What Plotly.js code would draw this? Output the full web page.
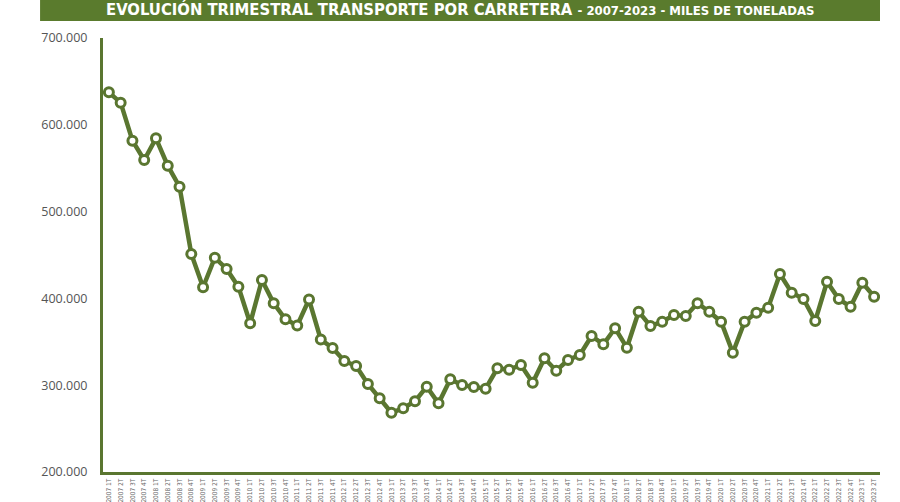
<!DOCTYPE html>
<html>
<head>
<meta charset="utf-8">
<script src="https://cdn.plot.ly/plotly-3.0.1.min.js"></script>
<style>
  html, body { margin: 0; padding: 0; background: #fff; }
  #chart { width: 900px; height: 502px; }
</style>
</head>
<body>
<div id="chart"></div>
<script>
// trimestres 2007 1T - 2023 2T
const quarters = [
  "2007 1T", "2007 2T", "2007 3T", "2007 4T",
  "2008 1T", "2008 2T", "2008 3T", "2008 4T",
  "2009 1T", "2009 2T", "2009 3T", "2009 4T",
  "2010 1T", "2010 2T", "2010 3T", "2010 4T",
  "2011 1T", "2011 2T", "2011 3T", "2011 4T",
  "2012 1T", "2012 2T", "2012 3T", "2012 4T",
  "2013 1T", "2013 2T", "2013 3T", "2013 4T",
  "2014 1T", "2014 2T", "2014 3T", "2014 4T",
  "2015 1T", "2015 2T", "2015 3T", "2015 4T",
  "2016 1T", "2016 2T", "2016 3T", "2016 4T",
  "2017 1T", "2017 2T", "2017 3T", "2017 4T",
  "2018 1T", "2018 2T", "2018 3T", "2018 4T",
  "2019 1T", "2019 2T", "2019 3T", "2019 4T",
  "2020 1T", "2020 2T", "2020 3T", "2020 4T",
  "2021 1T", "2021 2T", "2021 3T", "2021 4T",
  "2022 1T", "2022 2T", "2022 3T", "2022 4T",
  "2023 1T", "2023 2T"
];

// miles de toneladas
const tonnes = [
  637400, 625500, 581700, 559400,
  584400, 552900, 528700, 451200,
  412800, 446900, 433900, 413500,
  371300, 421200, 394400, 375900,
  368800, 398700, 352600, 342900,
  327900, 322100, 301400, 284900,
  268300, 273400, 281500, 298300,
  279100, 306800, 300200, 297900,
  296000, 319500, 317900, 323300,
  302900, 331000, 316700, 329000,
  334800, 356700, 347100, 365600,
  343200, 384700, 368200, 373200,
  380900, 379700, 394400, 384700,
  373200, 337400, 373200, 383500,
  389300, 428100, 406600, 399300,
  374000, 419200, 399300, 390400,
  418100, 402000
];

const yTicks = [200000, 300000, 400000, 500000, 600000, 700000];

const green = "#5a7630";
const barGreen = "#5a7b2d";

const trace = {
  x: quarters,
  y: tonnes,
  type: "scatter",
  mode: "lines+markers",
  line: { color: green, width: 4.5 },
  marker: {
    symbol: "circle",
    size: 9,
    color: "#ffffff",
    line: { color: green, width: 3 },
  },
  hoverinfo: "x+y",
};

const layout = {
  width: 900,
  height: 502,
  margin: { l: 103, r: 20, t: 38, b: 30 },
  paper_bgcolor: "#ffffff",
  plot_bgcolor: "#ffffff",
  separators: ",.",
  showlegend: false,
  xaxis: {
    type: "category",
    range: [-0.5, quarters.length - 0.5],
    showgrid: false,
    zeroline: false,
    showline: true,
    linecolor: green,
    linewidth: 3,
    ticks: "",
    tickangle: -90,
    ticklabelstandoff: 1,
    tickfont: { family: "DejaVu Sans Condensed, Open Sans, sans-serif", size: 6.5, color: "#666" },
    fixedrange: true,
  },
  yaxis: {
    range: [200000, 700000],
    tickvals: yTicks,
    tickformat: ",d",
    showgrid: false,
    zeroline: false,
    showline: true,
    linecolor: green,
    linewidth: 3,
    ticks: "",
    ticklabelstandoff: 10,
    tickfont: { family: "Open Sans, sans-serif", size: 12.5, color: "#555" },
    fixedrange: true,
  },
  shapes: [
    {
      type: "rect",
      xref: "paper", yref: "paper",
      x0: -0.081, x1: 1.0,
      y0: 1.039, y1: 1.09,
      fillcolor: barGreen,
      line: { width: 0 },
      layer: "below",
    },
  ],
  annotations: [
    {
      xref: "paper", yref: "paper",
      x: 0.4595, y: 1.0668,
      xanchor: "center", yanchor: "middle",
      showarrow: false,
      text: "<b>EVOLUCIÓN TRIMESTRAL TRANSPORTE POR CARRETERA <span style=\"font-size:13px\">- 2007-2023 - MILES DE TONELADAS</span></b>",
      font: { family: "DejaVu Sans Condensed, Liberation Sans Narrow, sans-serif", size: 16.5, color: "#ffffff" },
    },
  ],
};

const config = { responsive: false, displayModeBar: false, staticPlot: true };

Plotly.newPlot("chart", [trace], layout, config);
</script>
</body>
</html>
